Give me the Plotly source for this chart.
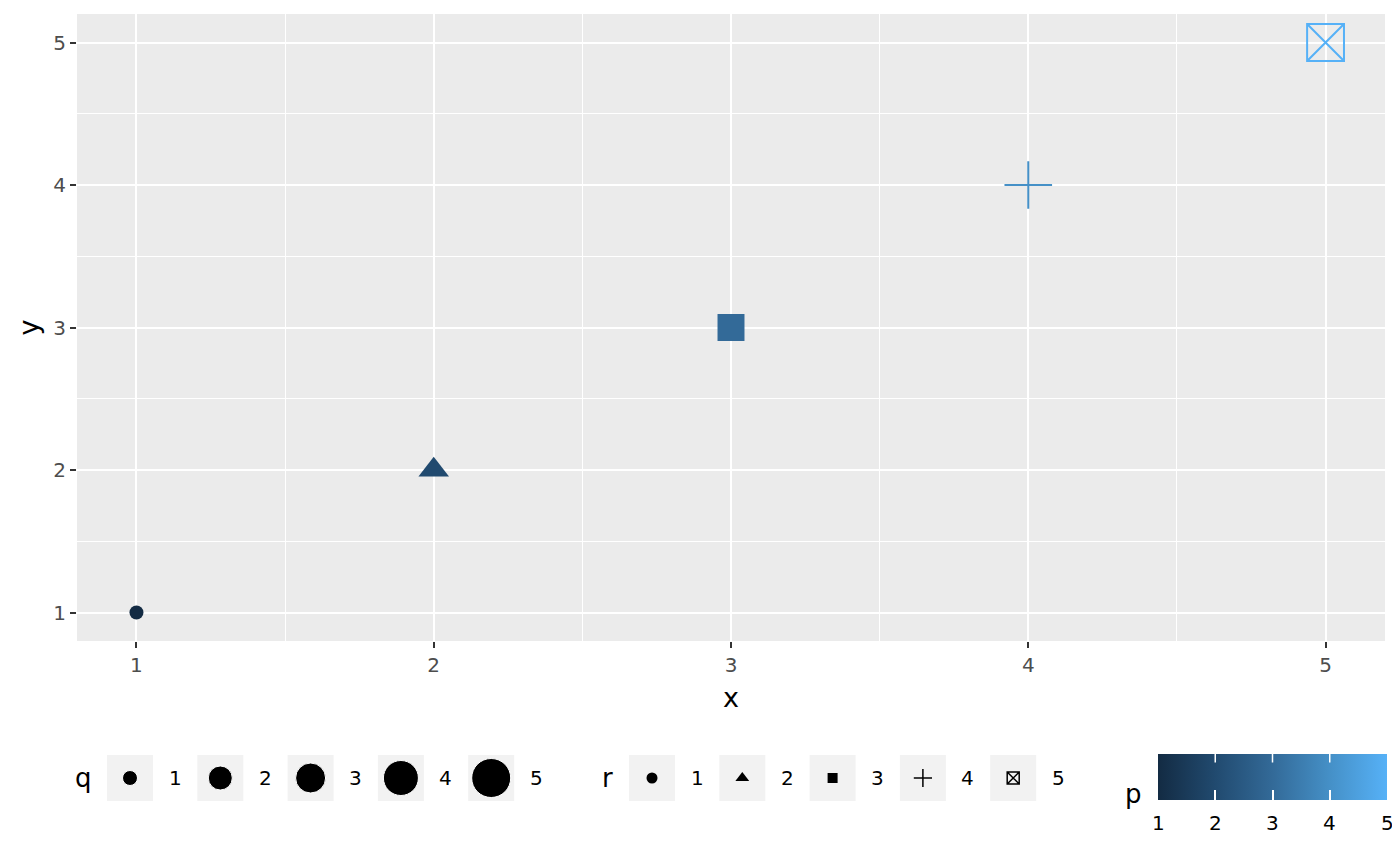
import plotly.graph_objects as go

# ---------------- data ----------------
x = [1, 2, 3, 4, 5]
y = [1, 2, 3, 4, 5]
p = [1, 2, 3, 4, 5]
q = [1, 2, 3, 4, 5]
r = [1, 2, 3, 4, 5]
q_levels = [1, 2, 3, 4, 5]
r_levels = [1, 2, 3, 4, 5]
p_ticks = [1, 2, 3, 4, 5]
x_ticks = [1, 2, 3, 4, 5]
y_ticks = [1, 2, 3, 4, 5]

# ---------------- styles ----------------
OFF = 8                      # page body margin of the html output
W, H = 1400 - OFF, 866 - OFF  # figure size so it ends at the window edge
FONT = "DejaVu Sans"
colorscale = [[0.0, "#132B43"], [0.25, "#214A6F"], [0.5, "#336A98"],
              [0.75, "#4590C7"], [1.0, "#56B1F7"]]
shape_for_r = {1: "circle", 2: "triangle-up", 3: "square",
               4: "cross-thin-open", 5: "square-x-open"}
open_shape = {"cross-thin-open", "square-x-open"}
q_diam = {1: 14, 2: 23, 3: 29, 4: 34, 5: 38}
shape_factor = {"circle": 1.0, "triangle-up": 1.15, "square": 0.93,
                "cross-thin-open": 1.0, "square-x-open": 0.97}
r_legend_size = {"circle": 11, "triangle-up": 12, "square": 10,
                 "cross-thin-open": 13, "square-x-open": 12}

# panel box in window pixels
PL, PR, PT, PB = 77, 1385, 14, 641


def fx(px):  # window pixel -> paper fraction (x)
    return (px - OFF) / W


def fy(py):  # window pixel -> paper fraction (y)
    return 1 - (py - OFF) / H


fig = go.Figure()

syms = [shape_for_r[v] for v in r]
sizes = [q_diam[qq] * shape_factor[s] for qq, s in zip(q, syms)]
lw = [2 if s in open_shape else 0 for s in syms]

cb_x0, cb_len, cb_top, cb_h = 1158, 229, 754, 46

fig.add_trace(go.Scatter(
    x=x, y=y, mode="markers", xaxis="x", yaxis="y", showlegend=False,
    marker=dict(symbol=syms, size=sizes, color=p, colorscale=colorscale,
                opacity=1,
                cmin=min(p_ticks), cmax=max(p_ticks), line=dict(width=lw),
                colorbar=dict(
                    orientation="h", x=fx(cb_x0), xanchor="left",
                    y=fy(cb_top), yanchor="top", lenmode="pixels", len=cb_len,
                    thickness=cb_h, xpad=0, ypad=0, outlinewidth=0,
                    tickvals=p_ticks, ticks="inside", ticklen=10,
                    tickcolor="white", tickwidth=1.5, showticklabels=False)),
))

# ---------------- legend (pixel overlay axes) ----------------
LEG_Y = 778
q_key_x0, r_key_x0, key_step = 130, 652, 90.3
KEY = 46
shapes = []
annotations = []

shapes.append(dict(type="rect", xref="x domain", yref="y domain", x0=0, x1=1,
                   y0=0, y1=1, fillcolor="#EBEBEB", line=dict(width=0),
                   layer="below"))

q_cx = [q_key_x0 + i * key_step for i in range(len(q_levels))]
r_cx = [r_key_x0 + i * key_step for i in range(len(r_levels))]
for cx in q_cx + r_cx:
    shapes.append(dict(type="rect", xref="x2", yref="y2", x0=cx - KEY / 2,
                       x1=cx + KEY / 2, y0=LEG_Y - KEY / 2, y1=LEG_Y + KEY / 2,
                       fillcolor="#F2F2F2", line=dict(width=0), layer="below"))

fig.add_trace(go.Scatter(
    x=q_cx, y=[LEG_Y] * len(q_levels), xaxis="x2", yaxis="y2", mode="markers",
    showlegend=False, hoverinfo="skip",
    marker=dict(symbol="circle", color="black", opacity=1,
                size=[q_diam[v] + 1 for v in q_levels])))
r_syms = [shape_for_r[v] for v in r_levels]
fig.add_trace(go.Scatter(
    x=r_cx, y=[LEG_Y] * len(r_levels), xaxis="x2", yaxis="y2", mode="markers",
    showlegend=False, hoverinfo="skip",
    marker=dict(symbol=r_syms, color="black", opacity=1,
                size=[r_legend_size[s] for s in r_syms],
                line=dict(width=[1.5 if s in open_shape else 0 for s in r_syms]))))

for lv, cx in zip(q_levels, q_cx):
    annotations.append(dict(xref="x2", yref="y2", x=cx + 45, y=LEG_Y, text=str(lv),
                            showarrow=False, font=dict(family=FONT, size=20, color="black")))
for lv, cx in zip(r_levels, r_cx):
    annotations.append(dict(xref="x2", yref="y2", x=cx + 45, y=LEG_Y, text=str(lv),
                            showarrow=False, font=dict(family=FONT, size=20, color="black")))
for t, tx, ty in [("q", 83, LEG_Y), ("r", 607, LEG_Y), ("p", 1133, 794)]:
    annotations.append(dict(xref="x2", yref="y2", x=tx, y=ty, text=t, showarrow=False,
                            font=dict(family=FONT, size=26, color="black")))

# axis titles
annotations.append(dict(xref="x2", yref="y2", x=(PL + PR) / 2, y=697, text="x",
                        showarrow=False, font=dict(family=FONT, size=27, color="black")))
annotations.append(dict(xref="x2", yref="y2", x=28, y=(PT + PB) / 2, text="y",
                        textangle=-90, showarrow=False,
                        font=dict(family=FONT, size=27, color="black")))

# colourbar tick labels and the white ticks on its top edge
for v in p_ticks:
    tx = cb_x0 + (v - p_ticks[0]) / (p_ticks[-1] - p_ticks[0]) * cb_len
    annotations.append(dict(xref="x2", yref="y2", x=tx, y=823, text=str(v),
                            showarrow=False,
                            font=dict(family=FONT, size=20, color="black")))
    if p_ticks[0] < v < p_ticks[-1]:
        annotations.append(dict(xref="x2", yref="y2", x=tx, y=cb_top, text="",
                                showarrow=True, arrowhead=0, arrowwidth=1.5,
                                arrowcolor="white", ax=0, ay=10, standoff=0,
                                startstandoff=0))

minor_x = [(a + b) / 2 for a, b in zip(x_ticks[:-1], x_ticks[1:])]
minor_y = [(a + b) / 2 for a, b in zip(y_ticks[:-1], y_ticks[1:])]

axis_common = dict(showgrid=True, gridcolor="white", gridwidth=2, zeroline=False,
                   showline=False, ticks="outside", ticklen=6, tickwidth=2.2,
                   tickcolor="#333333",
                   tickfont=dict(family=FONT, size=20, color="#4D4D4D"))

fig.update_layout(
    width=W, height=H, margin=dict(l=0, r=0, t=0, b=0),
    paper_bgcolor="white", plot_bgcolor="rgba(0,0,0,0)",
    font=dict(family=FONT),
    xaxis=dict(domain=[fx(PL), fx(PR)], range=[0.8, 5.2], tickvals=x_ticks,
               anchor="y",
               minor=dict(tickvals=minor_x, showgrid=True, gridcolor="white",
                          gridwidth=1, ticks=""),
               **axis_common),
    yaxis=dict(domain=[fy(PB), fy(PT)], range=[0.8, 5.2], tickvals=y_ticks,
               anchor="x",
               minor=dict(tickvals=minor_y, showgrid=True, gridcolor="white",
                          gridwidth=1, ticks=""),
               **axis_common),
    xaxis2=dict(domain=[0, 1], range=[OFF, OFF + W], visible=False, anchor="y2"),
    yaxis2=dict(domain=[0, 1], range=[OFF + H, OFF], visible=False, anchor="x2"),
    shapes=shapes, annotations=annotations,
)

fig.write_html("out.html")
